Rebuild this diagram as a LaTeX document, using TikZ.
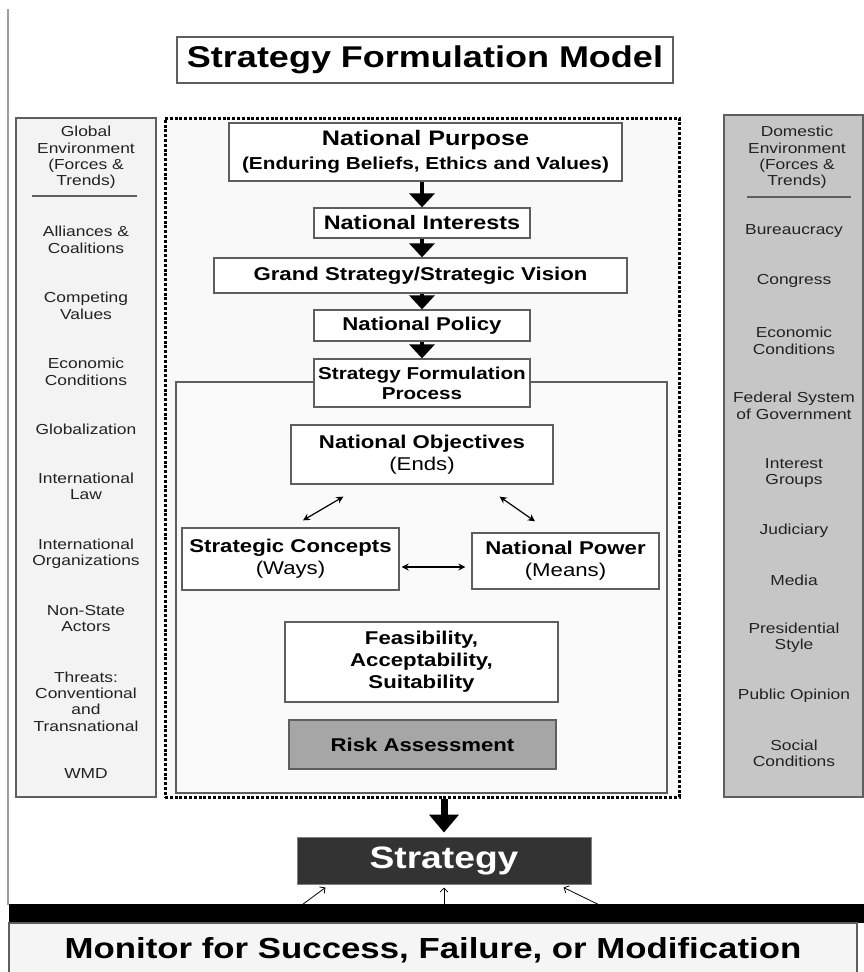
\documentclass[tikz,border=0pt]{standalone}
\usepackage{fontspec}
\setmainfont{Liberation Sans}[FakeStretch=1.2]
\usetikzlibrary{arrows.meta,calc}
\definecolor{boxline}{HTML}{5E5E5E}
\definecolor{leftfill}{HTML}{F3F3F3}
\definecolor{rightfill}{HTML}{C6C6C6}
\definecolor{dotfill}{HTML}{F9F9F9}
\definecolor{innerfill}{HTML}{FAFAFA}
\definecolor{riskfill}{HTML}{A6A6A6}
\definecolor{stratfill}{HTML}{333333}
\definecolor{monfill}{HTML}{F5F5F5}
\definecolor{sidetext}{HTML}{222222}
\newcommand{\myfs}[2]{\fontsize{#1}{#2}\selectfont}
\tikzset{
  wbox/.style={draw=boxline, line width=1.3pt, fill=white, inner sep=0pt, align=center, font=\bfseries\myfs{18.5}{22}},
  panel/.style={draw=boxline, line width=1.3pt, inner sep=0pt},
  side/.style={align=center, font=\myfs{14.5}{16.4}, text=sidetext, inner sep=0pt},
  sep/.style={draw=boxline, line width=1.3pt},
  downarrow/.style={line width=4.5pt, -{Triangle[width=25pt,length=14pt]}},
  bigarrow/.style={line width=7pt, -{Triangle[width=29pt,length=18pt]}},
  dblarrow/.style={line width=1.2pt, {Stealth[length=7pt,width=7pt]}-{Stealth[length=7pt,width=7pt]}},
  thinarrow/.style={line width=0.8pt, -{Straight Barb[length=4pt,width=8pt]}}
}
\begin{document}
\begin{tikzpicture}[x=1pt,y=-1pt]
\useasboundingbox (0,0) rectangle (864,972);
% left page rule
\draw[gray!75, line width=1.6pt] (8,9) -- (8,905);

% title
\node[wbox, font=\bfseries\myfs{30}{34}, minimum width=496pt, minimum height=46pt] (title) at (425,60) {Strategy Formulation Model};

% side panels
\node[panel, fill=leftfill, minimum width=140pt, minimum height=679pt] (left) at (86,457.5) {};
\node[panel, fill=rightfill, minimum width=139pt, minimum height=682pt] (right) at (793.5,456) {};

% dotted panel
\node[draw=black, line width=3pt, dash pattern=on 3pt off 1.8pt, fill=dotfill, inner sep=0pt, minimum width=514pt, minimum height=679pt] (dotted) at (422,457.5) {};

% inner process panel
\node[panel, fill=innerfill, minimum width=491pt, minimum height=411pt] (inner) at (421.5,587.5) {};

% left texts
\node[side] (lh) at (86,157.5) {Global\\Environment\\(Forces \&\\Trends)};
\draw[sep] (32,196) -- (137,196);
\node[side] (l1) at (86,240) {Alliances \&\\Coalitions};
\node[side] (l2) at (86,306) {Competing\\Values};
\node[side] (l3) at (86,372) {Economic\\Conditions};
\node[side] (l4) at (86,429) {Globalization};
\node[side] (l5) at (86,486.5) {International\\Law};
\node[side] (l6) at (86,553.5) {International\\Organizations};
\node[side] (l7) at (86,618.5) {Non-State\\Actors};
\node[side] (l8) at (86,701.5) {Threats:\\Conventional\\and\\Transnational};
\node[side] (l9) at (86,774) {WMD};

% right texts
\node[side] (rh) at (797,157.5) {Domestic\\Environment\\(Forces \&\\Trends)};
\draw[sep] (747,197) -- (851,197);
\node[side] (r1) at (794,231) {Bureaucracy};
\node[side] (r2) at (794,281) {Congress};
\node[side] (r3) at (794,341) {Economic\\Conditions};
\node[side] (r4) at (794,406) {Federal System\\of Government};
\node[side] (r5) at (794,473) {Interest\\Groups};
\node[side] (r6) at (794,531) {Judiciary};
\node[side] (r7) at (794,580) {Media};
\node[side] (r8) at (794,638) {Presidential\\Style};
\node[side] (r9) at (794,696) {Public Opinion};
\node[side] (r10) at (794,753.5) {Social\\Conditions};

% central chain
\node[wbox, font=\bfseries\myfs{17.3}{24}, minimum width=393pt, minimum height=58pt] (np) at (425.5,152) {{\myfs{21}{24}National Purpose}\\(Enduring Beliefs, Ethics and Values)};
\node[wbox, font=\bfseries\myfs{19.5}{22}, minimum width=216pt, minimum height=30pt] (ni) at (422,223) {National Interests};
\node[wbox, minimum width=413pt, minimum height=35pt] (gs) at (420.5,275.5) {Grand Strategy/Strategic Vision};
\node[wbox, minimum width=216pt, minimum height=31pt] (pol) at (422,325.5) {National Policy};
\node[wbox, font=\bfseries\myfs{17.2}{20}, minimum width=216pt, minimum height=48pt] (sfp) at (422,383) {Strategy Formulation\\Process};

\draw[downarrow] (ni.north |- np.south) -- (ni.north);
\draw[downarrow] (ni.south) -- (ni.south |- gs.north);
\draw[downarrow] (ni.south |- gs.south) -- (pol.north);
\draw[downarrow] (pol.south) -- (sfp.north);

% process contents
\node[wbox, minimum width=262pt, minimum height=59pt] (obj) at (422,454.5) {National Objectives\\{\mdseries (Ends)}};
\node[wbox, minimum width=217pt, minimum height=62pt] (ways) at (290.5,559) {Strategic Concepts\\{\mdseries (Ways)}};
\node[wbox, minimum width=187pt, minimum height=56pt] (means) at (565.5,561) {National Power\\{\mdseries (Means)}};
\node[wbox, minimum width=273pt, minimum height=80pt] (fas) at (421.5,662) {Feasibility,\\Acceptability,\\Suitability};
\node[wbox, fill=riskfill, minimum width=267pt, minimum height=49pt] (risk) at (422.5,744.5) {Risk Assessment};

\draw[dblarrow] ($(obj.south west)+(53,12)$) -- ($(ways.north)+(12.5,-7)$);
\draw[dblarrow] ($(obj.south east)+(-54,12)$) -- ($(means.north)+(-30.5,-11)$);
\draw[dblarrow] ($(ways.east)+(2,8)$) -- ($(means.west)+(-6,6)$);

% strategy
\node[draw=gray, line width=1pt, fill=stratfill, text=white, inner sep=0pt, font=\bfseries\myfs{31}{34}, minimum width=294pt, minimum height=47pt] (strat) at (444,860.5) {Strategy};
\draw[bigarrow, shorten >=4pt] (strat.north |- dotted.south) -- (strat.north);

% monitor band and box
\node[fill=black, inner sep=0pt, minimum width=855pt, minimum height=19pt] (band) at (436.5,913.5) {};
\node[draw=boxline, line width=1.3pt, fill=monfill, inner sep=0pt, font=\bfseries\myfs{29}{32}, minimum width=848pt, minimum height=54pt] (mon) at (433,950) {Monitor for Success, Failure, or Modification};

\draw[thinarrow] ($(strat.south west)+(6,20)$) -- ($(strat.south west)+(29,3)$);
\draw[thinarrow] ($(strat.south)+(0,20)$) -- ($(strat.south)+(0,3)$);
\draw[thinarrow] ($(strat.south east)+(7,20)$) -- ($(strat.south east)+(-28,3)$);
\end{tikzpicture}
\end{document}
